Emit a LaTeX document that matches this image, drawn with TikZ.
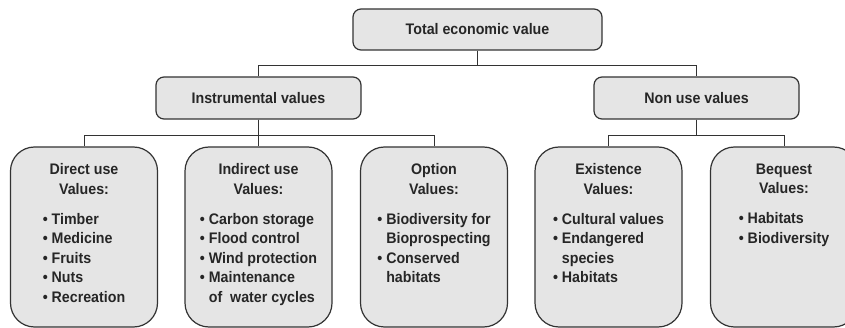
\documentclass[tikz,border=0pt]{standalone}
\usepackage{fontspec}
\setmainfont{Liberation Sans}[FakeStretch=0.93]
\usetikzlibrary{positioning}

\begin{document}
\begin{tikzpicture}[x=1pt, y=-1pt,
  font=\fontsize{15.3}{19.5}\selectfont\bfseries, text=black!85,
  valbox/.style={draw=black!80, line width=1.2pt, fill=black!10, rounded corners=8pt, minimum width=205pt, minimum height=42pt, inner sep=0pt},
  leafbox/.style={draw=black!80, line width=1.2pt, fill=black!10, rounded corners=24pt, minimum width=147pt, minimum height=180pt, inner sep=0pt},
  leaftext/.style={align=center, inner sep=0pt},
  link/.style={draw=black!80, line width=0.9pt}]
\useasboundingbox (0,0) rectangle (845,328);
\clip (0,0) rectangle (845,328);

\node [valbox, minimum width=249pt, minimum height=41pt] (total) at (477.5,29.5) {Total economic value};
\node [valbox] (instr) at (258.5,98) {Instrumental values};
\node [valbox] (nonuse) at (696.5,98) {Non use values};

\node [leafbox] (direct) at (84,237) {};
\node [leafbox] (indirect) at (258.5,237) {};
\node [leafbox] (option) at (434,237) {};
\node [leafbox] (exist) at (608.5,237) {};
\node [leafbox] (bequest) at (784,237) {};

\node [leaftext, below=17pt of direct.north] (directtxt) {Direct use\\Values:\\[10.5pt]\begin{tabular}[t]{@{}l@{ }l@{}}•&Timber\\•&Medicine\\•&Fruits\\•&Nuts\\•&Recreation\end{tabular}};
\node [leaftext, below=17pt of indirect.north] (indirecttxt) {Indirect use\\Values:\\[10.5pt]\begin{tabular}[t]{@{}l@{ }l@{}}•&Carbon storage\\•&Flood control\\•&Wind protection\\•&Maintenance\\&of \ water cycles\end{tabular}};
\node [leaftext, below=17pt of option.north] (optiontxt) {Option\\Values:\\[10.5pt]\begin{tabular}[t]{@{}l@{ }l@{}}•&Biodiversity for\\&Bioprospecting\\•&Conserved\\&habitats\end{tabular}};
\node [leaftext, below=17pt of exist.north] (existtxt) {Existence\\Values:\\[10.5pt]\begin{tabular}[t]{@{}l@{ }l@{}}•&Cultural values\\•&Endangered\\&species\\•&Habitats\end{tabular}};
\node [leaftext, below=17pt of bequest.north] (bequesttxt) {Bequest\\Values:\\[10.5pt]\begin{tabular}[t]{@{}l@{ }l@{}}•&Habitats\\•&Biodiversity\end{tabular}};

\draw [link] (total.south) -- ++(0,15) -| (instr.north);
\draw [link] (total.south) -- ++(0,15) -| (nonuse.north);
\draw [link] (instr.south) -- ++(0,16) -| (direct.north);
\draw [link] (instr.south) -- ++(0,16) -| (indirect.north);
\draw [link] (instr.south) -- ++(0,16) -| (option.north);
\draw [link] (nonuse.south) -- ++(0,16) -| (exist.north);
\draw [link] (nonuse.south) -- ++(0,16) -| (bequest.north);
\end{tikzpicture}
\end{document}
